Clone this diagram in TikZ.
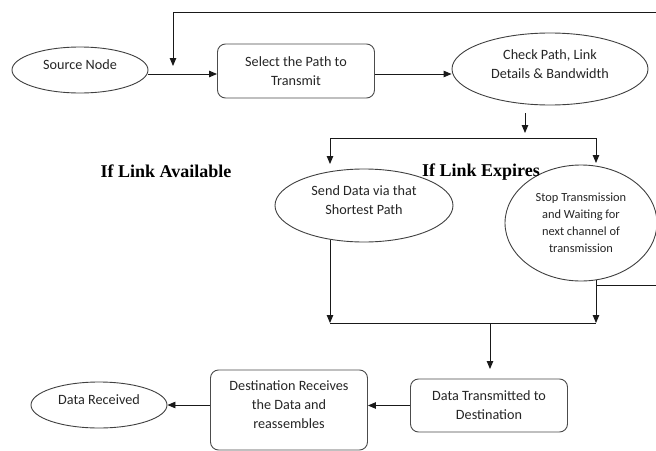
\documentclass[tikz,border=0pt]{standalone}
\usepackage{fontspec}
\setmainfont{Carlito}
\newfontfamily\lblfont{Liberation Serif}
\usetikzlibrary{shapes.geometric,arrows.meta,calc}
\newcommand\uptext[1]{\raisebox{4pt}[\height][\depth]{\begin{tabular}{@{}c@{}}#1\end{tabular}}}
\begin{document}
\begin{tikzpicture}[x=1pt,y=-1pt,
  every node/.style={font=\fontsize{14.2}{19}\selectfont, text=black!85, align=center, inner sep=0pt},
  ell/.style={ellipse, draw=black!75, line width=0.9pt},
  rbox/.style={rectangle, rounded corners=8pt, draw=black!70, line width=0.9pt},
  ln/.style={draw=black!90, line width=0.9pt},
  arr/.style={ln, -{Triangle[length=8pt,width=6.5pt]}},
  lbl/.style={font=\lblfont\bfseries\fontsize{18}{20}\selectfont, text=black}
]
\useasboundingbox (0,0) rectangle (656,450);
\fill[white] (0,0) rectangle (656,450);

% nodes
\node[ell, minimum width=136pt, minimum height=46pt] (src) at (80,70) {\uptext{Source Node}};
\node[rbox, minimum width=157pt, minimum height=54pt] (sel) at (296,71) {Select the Path to\\Transmit};
\node[ell, minimum width=196pt, minimum height=72pt] (chk) at (550,69) {\uptext{Check Path, Link\\Details \& Bandwidth}};
\node[ell, minimum width=178pt, minimum height=73pt] (snd) at (364,205.5) {\uptext{Send Data via that\\Shortest Path}};
\node[ell, minimum width=152pt, minimum height=116pt, font=\fontsize{12.4}{17}\selectfont] (stp) at (581,223) {Stop Transmission\\and Waiting for\\next channel of\\transmission};
\node[rbox, minimum width=157pt, minimum height=80pt] (dst) at (289,410) {\uptext{Destination Receives\\the Data and\\reassembles}};
\node[rbox, minimum width=157pt, minimum height=53pt] (dtx) at (489,405.5) {Data Transmitted to\\Destination};
\node[ell, minimum width=136pt, minimum height=46pt] (drc) at (99,405) {\uptext{Data Received}};

\node[lbl] (la) at (166,171) {If Link Available};
\node[lbl] (le) at (481,172) {If Link Expires};

% coordinates
\coordinate (fbtop) at (656,12);
\coordinate (fbend) at (173,66);
\coordinate (c1) at (525,113);
\coordinate (c2) at (525,133);
\coordinate (spl) at (330,138);
\coordinate (spr) at (596,138);
\coordinate (sndin) at (330,164);
\coordinate (stpin) at (596,163);
\coordinate (sndout) at (330,240);
\coordinate (stpout) at (596,280);
\coordinate (mgl) at (330,323);
\coordinate (mgr) at (596,323);
\coordinate (mgc) at (490,323);
\coordinate (dtin) at (490,369);
\coordinate (fbr1) at (596,285);
\coordinate (fbr2) at (656,285);

% connectors
\draw[arr] ($(src.east)+(0,4)$) -- ($(src.east -| sel.west)+(0,4)$);
\draw[arr] (fbtop) -| (fbend);
\draw[arr] ($(sel.east)+(0,3)$) -- ($(sel.east -| chk.west)+(0,3)$);
\draw[arr] (c1) -- (c2);
\draw[ln] (spl) -- (spr);
\draw[arr] (spl) -- (sndin);
\draw[arr] (spr) -- (stpin);
\draw[arr] (sndout) -- (mgl);
\draw[arr] (stpout) -- (mgr);
\draw[ln] (mgl) -- (mgr);
\draw[ln] (fbr1) -- (fbr2);
\draw[arr] (mgc) -- (dtin);
\draw[arr] (dtx.west) -- (dtx.west -| dst.east);
\draw[arr] (dst.west |- drc.east) -- (drc.east);
\end{tikzpicture}
\end{document}
